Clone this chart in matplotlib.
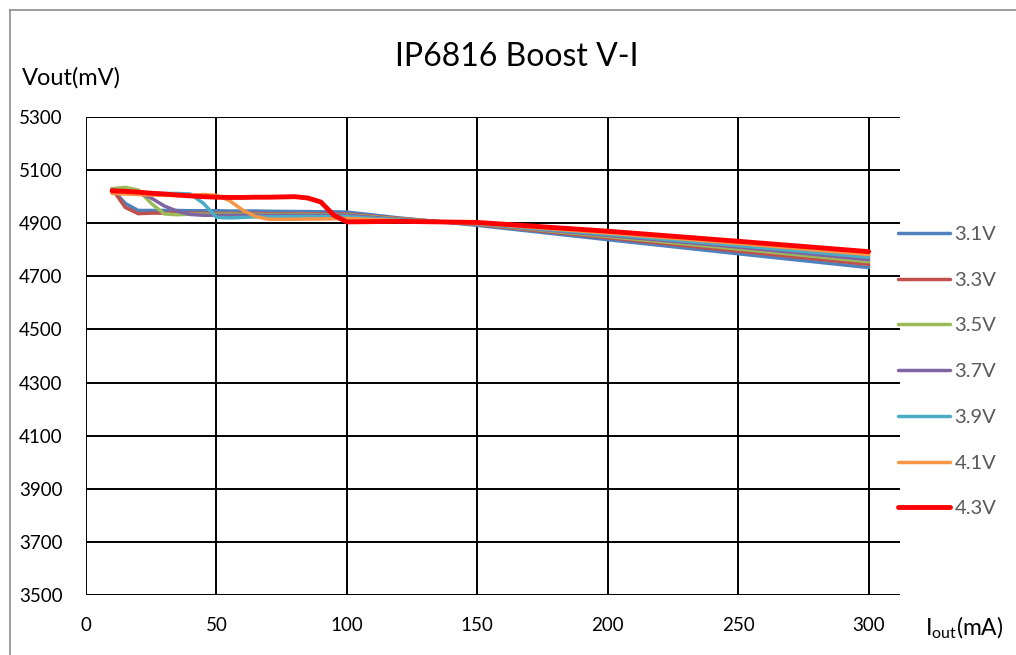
import matplotlib
matplotlib.use("Agg")
import matplotlib.pyplot as plt
from matplotlib.lines import Line2D

plt.rcParams['font.family'] = ['Lato', 'DejaVu Sans']
plt.rcParams['mathtext.fontset'] = 'custom'
plt.rcParams['mathtext.rm'] = 'Lato'

# Iout (mA)
iout = [10, 15, 20, 25, 30, 35, 40, 45, 50, 55, 60, 65, 70, 80, 85, 90, 95, 100, 120, 150, 200, 250, 300]

# Vout (mV) per input voltage
v31 = [5030, 4975, 4948, 4948, 4948, 4948, 4947, 4947, 4947, 4946, 4946, 4946, 4945, 4944, 4944, 4943, 4943, 4942, 4920, 4892, 4838, 4785, 4733]
v33 = [5030, 4960, 4936, 4938, 4938, 4938, 4938, 4938, 4937, 4937, 4937, 4937, 4936, 4936, 4936, 4935, 4935, 4935, 4918, 4895, 4845, 4795, 4745]
v35 = [5030, 5035, 5025, 4975, 4935, 4932, 4934, 4934, 4934, 4934, 4934, 4933, 4933, 4933, 4933, 4932, 4932, 4932, 4916, 4897, 4850, 4803, 4755]
v37 = [5025, 5022, 5015, 4995, 4965, 4945, 4933, 4930, 4930, 4930, 4930, 4930, 4930, 4930, 4930, 4930, 4930, 4930, 4914, 4898, 4854, 4810, 4763]
v39 = [5015, 5013, 5012, 5012, 5012, 5012, 5010, 4975, 4922, 4920, 4922, 4924, 4924, 4925, 4925, 4925, 4925, 4925, 4912, 4899, 4858, 4816, 4772]
v41 = [5012, 5010, 5008, 5006, 5005, 5005, 5005, 5008, 5005, 4985, 4950, 4925, 4915, 4915, 4916, 4916, 4917, 4918, 4910, 4900, 4863, 4824, 4782]
v43 = [5022, 5020, 5017, 5013, 5010, 5006, 5003, 5000, 4998, 4997, 4997, 4998, 4998, 5000, 4995, 4980, 4930, 4905, 4907, 4903, 4870, 4832, 4793]

series = [
    ("3.1V", v31, "#4F81BD", 2.5),
    ("3.3V", v33, "#C0504D", 2.5),
    ("3.5V", v35, "#9BBB59", 2.5),
    ("3.7V", v37, "#8064A2", 2.5),
    ("3.9V", v39, "#4BACC6", 2.5),
    ("4.1V", v41, "#F79646", 2.5),
    ("4.3V", v43, "#FF0000", 3.5),
]

x_ticks = [0, 50, 100, 150, 200, 250, 300]
y_ticks = [3500, 3700, 3900, 4100, 4300, 4500, 4700, 4900, 5100, 5300]

fig = plt.figure(figsize=(10.16, 6.55), dpi=100)
ax = fig.add_axes([86 / 1016, 1 - 595 / 655, 814 / 1016, 478 / 655])

for label, vals, color, lw in series:
    ax.plot(iout, vals, color=color, lw=lw, label=label,
            solid_joinstyle='round', solid_capstyle='round')

ax.set_xlim(0, 312)
ax.set_ylim(3500, 5300)
ax.set_xticks(x_ticks)
ax.set_yticks(y_ticks)
ax.grid(True, color='black', lw=1.4)
ax.set_axisbelow(True)
for s in ['top', 'right', 'left', 'bottom']:
    ax.spines[s].set_visible(False)
ax.tick_params(length=0, labelsize=13.5, colors='black')
ax.tick_params(axis='y', pad=17)
ax.tick_params(axis='x', pad=16)

fig.text(517 / 1016, 1 - 57 / 655, "IP6816 Boost V-I", ha='center', va='center', fontsize=23)
fig.text(22 / 1016, 1 - 78 / 655, "Vout(mV)", ha='left', va='center', fontsize=17)
fig.text(925 / 1016, 1 - 628 / 655, r"I$_{\mathrm{out}}$(mA)", ha='left', va='center', fontsize=16.5)

leg = fig.legend(loc='upper left', bbox_to_anchor=(898 / 1016, 1 - 226 / 655),
                 frameon=False, fontsize=14.5, handlelength=2.6, handletextpad=0.2,
                 labelspacing=1.42, borderpad=0, borderaxespad=0)
for t in leg.get_texts():
    t.set_color('#595959')

# outer chart frame
fig.add_artist(Line2D([10 / 1016, 10 / 1016], [0, 1 - 10 / 655], color='#8C8C8C', lw=1.2))
fig.add_artist(Line2D([10 / 1016, 1], [1 - 10 / 655, 1 - 10 / 655], color='#8C8C8C', lw=1.2))

fig.savefig("out.png", dpi=100)
